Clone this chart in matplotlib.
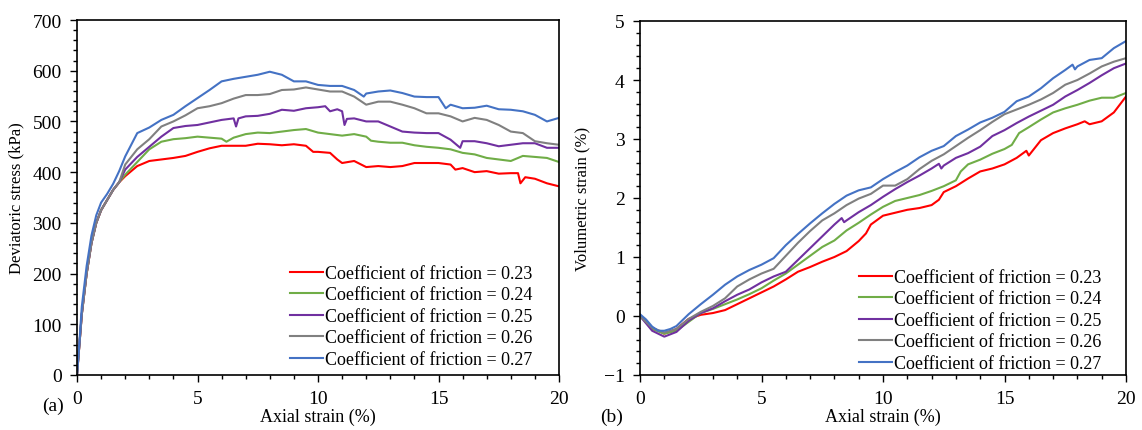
import matplotlib
matplotlib.use("Agg")
import matplotlib.pyplot as plt
from matplotlib.ticker import MultipleLocator

plt.rcParams['font.family'] = ['Liberation Serif', 'DejaVu Serif']
plt.rcParams['font.size'] = 13

labels = ["Coefficient of friction = 0.23", "Coefficient of friction = 0.24",
          "Coefficient of friction = 0.25", "Coefficient of friction = 0.26",
          "Coefficient of friction = 0.27"]
colors = ["#ff0000", "#70ad47", "#7030a0", "#808080", "#4472c4"]

# ---- (a) deviatoric stress vs axial strain ----
early_x = [0, 0.1, 0.2, 0.4, 0.6, 0.8, 1.0, 1.25, 1.5, 1.75]
early_q = [0, 60, 120, 200, 260, 300, 325, 345, 365, 380]
early_q_blue = [0, 65, 135, 215, 275, 315, 340, 357, 377, 402]

q023_x = early_x + [2, 2.5, 3, 3.5, 4, 4.5, 5, 5.5, 6, 6.5, 7, 7.5, 8, 8.5, 9, 9.5, 9.8, 10,
                    10.5, 10.8, 11, 11.5, 12, 12.5, 13, 13.5, 14, 14.5, 15, 15.5, 15.7, 16,
                    16.5, 17, 17.5, 18, 18.3, 18.4, 18.6, 19, 19.5, 20]
q023 = early_q + [392, 412, 422, 425, 428, 432, 440, 447, 452, 452, 452, 456, 455, 453, 455, 452,
                  440, 440, 438, 425, 418, 422, 410, 412, 410, 412, 418, 418, 418, 415, 405, 408,
                  400, 402, 397, 398, 398, 378, 390, 387, 378, 372]

q024_x = early_x + [2, 2.5, 3, 3.5, 4, 4.5, 5, 5.5, 6, 6.2, 6.5, 7, 7.5, 8, 8.5, 9, 9.5, 10,
                    10.5, 11, 11.5, 12, 12.2, 12.5, 13, 13.5, 14, 14.5, 15, 15.5, 16, 16.5, 17,
                    17.5, 18, 18.5, 19, 19.5, 20]
q024 = early_q + [395, 420, 445, 460, 465, 467, 470, 468, 466, 460, 468, 475, 478, 477, 480, 483,
                  485, 478, 475, 472, 475, 470, 462, 460, 458, 458, 453, 450, 448, 445, 438, 435,
                  428, 425, 422, 432, 430, 428, 420]

q025_x = early_x + [2, 2.5, 3, 3.5, 4, 4.5, 5, 5.5, 6, 6.5, 6.6, 6.7, 7, 7.5, 8, 8.5, 9, 9.5,
                    10, 10.3, 10.5, 10.8, 11, 11.1, 11.2, 11.5, 12, 12.5, 13, 13.5, 14, 14.5,
                    15, 15.5, 15.9, 16, 16.5, 17, 17.5, 18, 18.5, 19, 19.5, 20]
q025 = early_q + [405, 430, 450, 470, 487, 491, 493, 498, 503, 506, 490, 506, 510, 511, 515, 523,
                  521, 526, 528, 530, 520, 524, 520, 493, 505, 506, 500, 500, 490, 480, 478, 477,
                  477, 464, 448, 461, 461, 457, 451, 454, 457, 457, 448, 448]

q026_x = early_x + [2, 2.5, 3, 3.5, 4, 4.5, 5, 5.5, 6, 6.5, 7, 7.5, 8, 8.5, 9, 9.5, 10, 10.5,
                    11, 11.5, 12, 12.5, 13, 13.5, 14, 14.5, 15, 15.5, 16, 16.5, 17, 17.5, 18,
                    18.5, 19, 19.5, 20]
q026 = early_q + [415, 445, 465, 490, 500, 512, 526, 530, 536, 545, 552, 552, 554, 562, 563, 567,
                  563, 559, 559, 549, 533, 539, 539, 533, 526, 516, 516, 510, 500, 507, 503, 493,
                  480, 477, 461, 457, 454]

q027_x = early_x + [2, 2.5, 3, 3.5, 4, 4.5, 5, 5.5, 6, 6.5, 7, 7.5, 8, 8.5, 9, 9.5, 10, 10.5,
                    11, 11.5, 11.9, 12, 12.5, 13, 13.5, 14, 14.5, 15, 15.3, 15.5, 16, 16.5, 17,
                    17.5, 18, 18.5, 19, 19.5, 20]
q027 = early_q_blue + [431, 477, 488, 503, 513, 530, 546, 562, 579, 584, 588, 592, 598, 592, 579,
                       579, 572, 570, 570, 562, 549, 555, 559, 561, 556, 549, 548, 548, 526, 533,
                       526, 527, 531, 524, 523, 520, 513, 500, 507]

# ---- (b) volumetric strain vs axial strain ----
ev023_x = [0, 0.5, 1.0, 1.5, 2, 2.5, 3, 3.5, 4, 4.5, 5, 5.5, 6, 6.5, 7, 7.5, 8, 8.5, 9, 9.3,
           9.5, 10, 10.5, 11, 11.5, 12, 12.3, 12.5, 13, 13.5, 14, 14.5, 15, 15.5, 15.9, 16.0,
           16.5, 17, 17.5, 18, 18.3, 18.5, 19, 19.5, 20]
ev023 = [0.0, -0.2, -0.3, -0.22, -0.05, 0.02, 0.05, 0.1, 0.2, 0.3, 0.4, 0.5, 0.62, 0.75, 0.83,
         0.92, 1.0, 1.1, 1.27, 1.4, 1.55, 1.7, 1.75, 1.8, 1.83, 1.88, 1.97, 2.1, 2.2, 2.33, 2.45,
         2.5, 2.57, 2.68, 2.8, 2.72, 2.98, 3.1, 3.18, 3.25, 3.3, 3.25, 3.3, 3.45, 3.72]

ev024_x = [0, 0.5, 1.0, 1.5, 2, 2.5, 3, 3.5, 4, 4.5, 5, 5.5, 6, 6.5, 7, 7.5, 8, 8.5, 9, 9.5,
           10, 10.5, 11, 11.5, 12, 12.5, 13, 13.2, 13.5, 14, 14.5, 15, 15.3, 15.6, 16, 16.5, 17,
           17.5, 18, 18.5, 19, 19.5, 20]
ev024 = [0.0, -0.22, -0.3, -0.25, -0.1, 0.05, 0.12, 0.2, 0.28, 0.37, 0.47, 0.6, 0.72, 0.87, 1.02,
         1.17, 1.28, 1.45, 1.58, 1.72, 1.85, 1.95, 2.0, 2.05, 2.12, 2.2, 2.3, 2.45, 2.57, 2.65,
         2.75, 2.83, 2.9, 3.1, 3.2, 3.33, 3.45, 3.52, 3.58, 3.65, 3.7, 3.7, 3.78]

ev025_x = [0, 0.5, 1.0, 1.5, 2, 2.5, 3, 3.5, 4, 4.5, 5, 5.5, 6, 6.5, 7, 7.5, 8, 8.3, 8.4, 8.5,
           9, 9.5, 10, 10.5, 11, 11.5, 12, 12.3, 12.4, 12.5, 13, 13.5, 14, 14.5, 15, 15.5, 16,
           16.5, 17, 17.5, 18, 18.5, 19, 19.5, 20]
ev025 = [0.0, -0.25, -0.35, -0.27, -0.08, 0.05, 0.13, 0.25, 0.36, 0.45, 0.57, 0.67, 0.75, 0.95,
         1.15, 1.35, 1.55, 1.66, 1.59, 1.62, 1.76, 1.88, 2.02, 2.15, 2.27, 2.38, 2.5, 2.58, 2.5,
         2.55, 2.68, 2.76, 2.87, 3.05, 3.15, 3.27, 3.38, 3.48, 3.58, 3.72, 3.83, 3.95, 4.08, 4.2,
         4.28]

ev026_x = [0, 0.5, 1.0, 1.5, 2, 2.5, 3, 3.5, 4, 4.5, 5, 5.5, 6, 6.5, 7, 7.5, 8, 8.5, 9, 9.5,
           10, 10.5, 11, 11.5, 12, 12.5, 13, 13.5, 14, 14.5, 15, 15.5, 16, 16.5, 17, 17.5, 18,
           18.5, 19, 19.5, 20]
ev026 = [0.0, -0.2, -0.28, -0.22, -0.05, 0.07, 0.17, 0.3, 0.5, 0.62, 0.72, 0.8, 1.02, 1.24, 1.44,
         1.62, 1.74, 1.88, 1.99, 2.07, 2.21, 2.21, 2.32, 2.49, 2.63, 2.74, 2.88, 3.02, 3.15, 3.29,
         3.42, 3.5, 3.58, 3.67, 3.78, 3.92, 4.0, 4.11, 4.23, 4.31, 4.37]

ev027_x = [0, 0.25, 0.5, 0.75, 1.0, 1.25, 1.5, 2, 2.5, 3, 3.5, 4, 4.5, 5, 5.5, 6, 6.5, 7, 7.5,
           8, 8.5, 9, 9.5, 10, 10.5, 11, 11.5, 12, 12.5, 13, 13.5, 14, 14.5, 15, 15.5, 16, 16.5,
           17, 17.5, 17.8, 17.9, 18, 18.5, 19, 19.5, 20]
ev027 = [0.03, -0.06, -0.18, -0.25, -0.25, -0.22, -0.17, 0.03, 0.2, 0.36, 0.53, 0.67, 0.78, 0.87,
         0.98, 1.2, 1.39, 1.57, 1.74, 1.9, 2.04, 2.13, 2.18, 2.32, 2.44, 2.55, 2.69, 2.8, 2.88,
         3.05, 3.16, 3.28, 3.36, 3.46, 3.64, 3.72, 3.86, 4.03, 4.17, 4.26, 4.18, 4.23, 4.34, 4.37,
         4.54, 4.66]

stress_x = [q023_x, q024_x, q025_x, q026_x, q027_x]
stress_y = [q023, q024, q025, q026, q027]
vol_x = [ev023_x, ev024_x, ev025_x, ev026_x, ev027_x]
vol_y = [ev023, ev024, ev025, ev026, ev027]

W, H = 1142, 431
fig = plt.figure(figsize=(W / 100, H / 100), dpi=100)
ax1 = fig.add_axes([77 / W, 1 - 376 / H, 482 / W, 355 / H])
ax2 = fig.add_axes([640 / W, 1 - 376 / H, 486 / W, 354 / H])

for xs, ys, c, lab in zip(stress_x, stress_y, colors, labels):
    ax1.plot(xs, ys, color=c, lw=1.5, label=lab)
for xs, ys, c, lab in zip(vol_x, vol_y, colors, labels):
    ax2.plot(xs, ys, color=c, lw=1.5, label=lab)

ax1.set_xlim(0, 20)
ax1.set_ylim(0, 700)
ax1.xaxis.set_major_locator(MultipleLocator(5))
ax1.xaxis.set_minor_locator(MultipleLocator(1))
ax1.yaxis.set_major_locator(MultipleLocator(100))
ax1.yaxis.set_minor_locator(MultipleLocator(20))
ax1.set_ylabel("Deviatoric stress (kPa)", fontsize=12, labelpad=6)
ax1.set_xlabel("Axial strain (%)", fontsize=13, labelpad=0)

ax2.set_xlim(0, 20)
ax2.set_ylim(-1, 5)
ax2.xaxis.set_major_locator(MultipleLocator(5))
ax2.xaxis.set_minor_locator(MultipleLocator(1))
ax2.yaxis.set_major_locator(MultipleLocator(1))
ax2.yaxis.set_minor_locator(MultipleLocator(0.2))
ax2.set_ylabel("Volumetric strain (%)", fontsize=12, labelpad=10)
ax2.set_xlabel("Axial strain (%)", fontsize=13, labelpad=0)

for ax in (ax1, ax2):
    ax.tick_params(which='major', direction='out', length=5, width=1, pad=6, labelsize=14)
    ax.tick_params(which='minor', direction='out', length=3, width=1)
    for s in ax.spines.values():
        s.set_linewidth(1.2)

legend_kw = dict(loc='lower right', bbox_transform=fig.transFigure, frameon=False,
                 fontsize=13, handlelength=1.8, handletextpad=0.1, labelspacing=0.25,
                 borderaxespad=0, borderpad=0)
ax1.legend(bbox_to_anchor=(532 / W, 1 - 369 / H), **legend_kw)
ax2.legend(bbox_to_anchor=(1101 / W, 1 - 373 / H), **legend_kw)

fig.text(53 / W, 1 - 406 / H, "(a)", ha='center', va='center', fontsize=14)
fig.text(612 / W, 1 - 417 / H, "(b)", ha='center', va='center', fontsize=14)

fig.savefig("out.png", dpi=100)
